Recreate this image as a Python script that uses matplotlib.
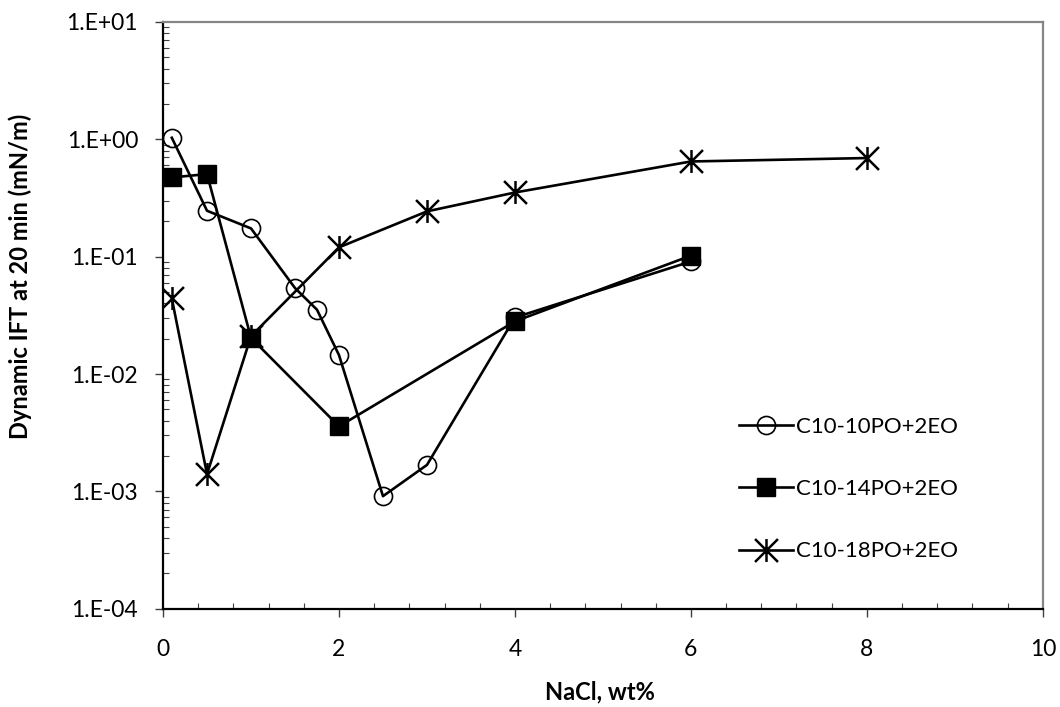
import numpy as np
import matplotlib.pyplot as plt
from matplotlib.path import Path
from matplotlib.ticker import FixedLocator, FuncFormatter, MultipleLocator, LogLocator, NullFormatter

plt.rcParams['font.family'] = ['Lato', 'DejaVu Sans']

# NaCl concentration (wt%) and dynamic IFT at 20 min (mN/m)
nacl_10po = [0.1, 0.5, 1.0, 1.5, 1.75, 2.0, 2.5, 3.0, 4.0, 6.0]
ift_10po = [1.03, 0.246, 0.174, 0.054, 0.0353, 0.0145, 0.00091, 0.00168, 0.0303, 0.091]

nacl_14po = [0.1, 0.5, 1.0, 2.0, 4.0, 6.0]
ift_14po = [0.473, 0.505, 0.0203, 0.00358, 0.0281, 0.102]

nacl_18po = [0.1, 0.5, 1.0, 2.0, 3.0, 4.0, 6.0, 8.0]
ift_18po = [0.044, 0.0014, 0.021, 0.12, 0.243, 0.352, 0.647, 0.692]

labels = ['C10-10PO+2EO', 'C10-14PO+2EO', 'C10-18PO+2EO']
y_decades = [-4, -3, -2, -1, 0, 1]

# six-arm asterisk: an X to the corners plus a vertical bar
star = Path([(-1, -1), (1, 1), (-1, 1), (1, -1), (0, -1), (0, 1)],
            [Path.MOVETO, Path.LINETO, Path.MOVETO, Path.LINETO, Path.MOVETO, Path.LINETO])

fig = plt.figure(figsize=(10.6, 7.07), dpi=100)
ax = fig.add_axes([0.1538, 0.139, 0.8300, 0.830])

lw = 1.9
ax.plot(nacl_10po, ift_10po, color='black', lw=lw, marker='o', ms=13,
        mfc='none', mec='black', mew=1.2, label=labels[0])
ax.plot(nacl_14po, ift_14po, color='black', lw=lw, marker='s', ms=13,
        mfc='black', mec='black', label=labels[1])
ax.plot(nacl_18po, ift_18po, color='black', lw=lw, marker=star, ms=16.5,
        mec='black', mew=1.8, label=labels[2])

ax.set_xlim(0, 10)
ax.set_yscale('log')
ax.set_ylim(1e-4, 1e1)

ax.xaxis.set_major_locator(MultipleLocator(2))
ax.xaxis.set_minor_locator(MultipleLocator(0.4))
ax.yaxis.set_major_locator(FixedLocator([10.0 ** d for d in y_decades]))
ax.yaxis.set_major_formatter(FuncFormatter(lambda v, pos: f"1.E{int(round(np.log10(v))):+03d}"))
ax.yaxis.set_minor_locator(LogLocator(base=10, subs=np.arange(2, 10), numticks=20))
ax.yaxis.set_minor_formatter(NullFormatter())

ax.tick_params(which='major', direction='out', length=6, width=1.0, color='#404040',
               labelsize=16.5)
ax.tick_params(which='minor', direction='in', length=4.5, width=0.8, color='#404040')
ax.tick_params(axis='y', which='major', pad=12)
ax.tick_params(axis='x', which='major', pad=16)

for side in ['left', 'bottom']:
    ax.spines[side].set_color('black')
    ax.spines[side].set_linewidth(1.6)
for side in ['top', 'right']:
    ax.spines[side].set_color('#868686')
    ax.spines[side].set_linewidth(1.6)

ax.set_xlabel('NaCl, wt%', fontsize=17, fontweight='bold')
ax.set_ylabel('Dynamic IFT at 20 min (mN/m)', fontsize=17, fontweight='bold')
ax.xaxis.set_label_coords(0.497, -0.122)
ax.yaxis.set_label_coords(-0.149, 0.567)

ax.legend(loc='upper left', bbox_to_anchor=(0.645, 0.342), frameon=False, fontsize=16,
          handlelength=2.4, handletextpad=0.15, labelspacing=1.9, borderaxespad=0)

fig.savefig('out.png', dpi=100)
